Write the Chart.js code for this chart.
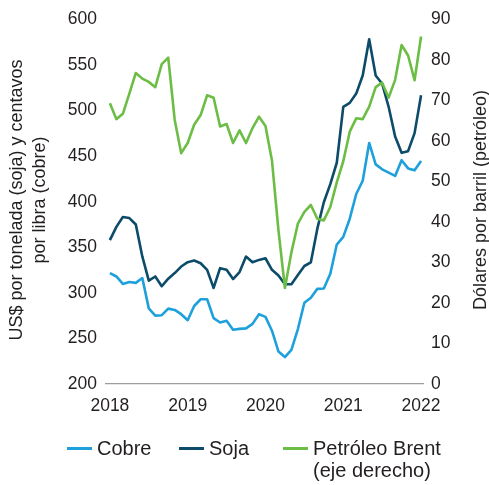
<!DOCTYPE html>
<html>
<head>
<meta charset="utf-8">
<script src="https://cdn.jsdelivr.net/npm/chart.js@4.4.1/dist/chart.umd.min.js"></script>
<style>
  html, body { margin: 0; padding: 0; background: #fff; }
  #wrap { position: relative; width: 489px; height: 485px; }
  #legend .item { position: absolute; font: 20px "Liberation Sans", Arial, sans-serif; color: #231f20; line-height: 22px; white-space: nowrap; }
  #legend .swatch { position: absolute; width: 25px; height: 3px; }
</style>
</head>
<body>
<div id="wrap">
  <canvas id="wykres" width="489" height="485"></canvas>
  <div id="legend"></div>
</div>
<script>
// meses: 0 = ene 2018 ... 48 = ene 2022
var anos = ['2018', '2019', '2020', '2021', '2022'];
var anosPos = [0, 12, 24, 36, 48];

// cobre, centavos por libra
var cobre = [321.7, 318, 309.8, 312, 311, 316.3, 283, 275, 275.5, 282.7, 281.3, 276.6,
  270, 285.6, 293, 293, 272.3, 267.5, 269.4, 259.6, 260.5, 261, 266, 276.6,
  273.7, 258.5, 235.7, 229.6, 237.5, 260.3, 289.2, 294.6, 304.4, 304.8, 321, 353,
  361.5, 381.4, 408.5, 423, 464.5, 441, 435.6, 432, 428.3, 445.6, 436.6, 434.5,
  444.6];

// soja, US$ por tonelada
var soja = [357.9, 372.4, 383.2, 382.1, 375, 340, 313.4, 318, 307.3, 315.6, 321.7, 328.9,
  333.7, 335.5, 332.5, 325.3, 305.4, 327.1, 325.3, 315.2, 322.9, 339.8, 333.7, 336.2,
  338, 325.3, 319, 309.5, 309.5, 319.5, 329.5, 333.5, 370.5, 399.5, 419.3, 442.8,
  504.2, 508.5, 518.7, 538.5, 578.3, 538.5, 529.5, 504.2, 471.7, 453.7, 455.5, 475.3,
  516.9];

// petroleo Brent, dolares por barril (eje derecho)
var brent = [69.3, 65.4, 66.7, 71.7, 76.8, 75.4, 74.6, 73.3, 79.0, 80.6, 65.2, 57.0,
  59.5, 64.0, 66.4, 71.3, 70.7, 63.6, 64.2, 59.5, 62.6, 59.5, 63.2, 66.0,
  63.7, 55.2, 38, 23.7, 32.5, 39.6, 42.5, 44.2, 40.8, 40.4, 43.7, 49.8,
  55.0, 62.3, 65.6, 65.4, 68.5, 73.3, 74.4, 70.7, 75.1, 83.7, 81.1, 75.0,
  85.8];

var tytulLewy = ['US$ por tonelada (soja) y centavos', 'por libra (cobre)'];
var tytulPrawy = 'Dólares por barril (petróleo)';

var kolory = { cobre: '#1ea0da', soja: '#0c4b69', brent: '#6cbd45' };
var tekst = '#231f20';
var czcionka = '"Liberation Sans", Arial, sans-serif';

function punkty(arr) {
  return arr.map(function (v, i) { return { x: i, y: v }; });
}

var tytuly = {
  id: 'tytuly',
  afterDraw: function (chart) {
    var ctx = chart.ctx;
    ctx.save();
    ctx.fillStyle = tekst;
    ctx.font = '18px ' + czcionka;
    ctx.textAlign = 'center';
    ctx.textBaseline = 'middle';
    ctx.translate(17, 200);
    ctx.rotate(-Math.PI / 2);
    ctx.fillText(tytulLewy[0], 0, 0);
    ctx.fillText(tytulLewy[1], 0, 23);
    ctx.restore();

    ctx.save();
    ctx.fillStyle = tekst;
    ctx.font = '18px ' + czcionka;
    ctx.textAlign = 'center';
    ctx.textBaseline = 'middle';
    ctx.translate(481, 200);
    ctx.rotate(-Math.PI / 2);
    ctx.fillText(tytulPrawy, 0, 0);
    ctx.restore();
  }
};

var tickFont = { family: czcionka, size: 17.5 };

window.wykres = new Chart(document.getElementById('wykres'), {
  type: 'line',
  data: {
    datasets: [
      { label: 'Cobre', data: punkty(cobre), yAxisID: 'y', borderColor: kolory.cobre, order: 2 },
      { label: 'Soja', data: punkty(soja), yAxisID: 'y', borderColor: kolory.soja, order: 1 },
      { label: 'Petróleo Brent|(eje derecho)', data: punkty(brent), yAxisID: 'y1', borderColor: kolory.brent, order: 0 }
    ]
  },
  options: {
    responsive: false,
    animation: false,
    layout: { padding: { top: 15, left: 0, right: 0, bottom: 0 } },
    elements: {
      line: { borderWidth: 2.6, tension: 0, fill: false, borderJoinStyle: 'round' },
      point: { radius: 0 }
    },
    plugins: { legend: { display: false }, tooltip: { enabled: false } },
    scales: {
      x: {
        type: 'linear', min: -0.6, max: 48.3,
        grid: { display: false, drawTicks: false },
        border: { display: true, color: '#9d9d9d', width: 1.3 },
        afterBuildTicks: function (ax) { ax.ticks = anosPos.map(function (v) { return { value: v }; }); },
        afterFit: function (ax) { ax.height = 101; },
        ticks: {
          font: tickFont, color: tekst, padding: 12, maxRotation: 0, autoSkip: false,
          callback: function (v) { return anos[anosPos.indexOf(v)]; }
        }
      },
      y: {
        position: 'left', min: 200, max: 600,
        grid: { display: false, drawTicks: false },
        border: { display: false },
        afterFit: function (ax) { ax.width = 106; },
        ticks: { stepSize: 50, font: tickFont, color: tekst, padding: 9 }
      },
      y1: {
        position: 'right', min: 0, max: 90,
        grid: { display: false, drawTicks: false },
        border: { display: false },
        afterFit: function (ax) { ax.width = 66; },
        ticks: { stepSize: 10, font: tickFont, color: tekst, padding: 8 }
      }
    }
  },
  plugins: [tytuly]
});

// leyenda debajo del grafico
var legendaX = [67, 179, 283];
var legenda = document.getElementById('legend');
window.wykres.data.datasets.forEach(function (ds, i) {
  var sw = document.createElement('div');
  sw.className = 'swatch';
  sw.style.left = legendaX[i] + 'px';
  sw.style.top = '447px';
  sw.style.background = ds.borderColor;
  legenda.appendChild(sw);
  var it = document.createElement('div');
  it.className = 'item';
  it.style.left = (legendaX[i] + 30) + 'px';
  it.style.top = '437px';
  it.innerHTML = ds.label.split('|').join('<br>');
  legenda.appendChild(it);
});
</script>
</body>
</html>
